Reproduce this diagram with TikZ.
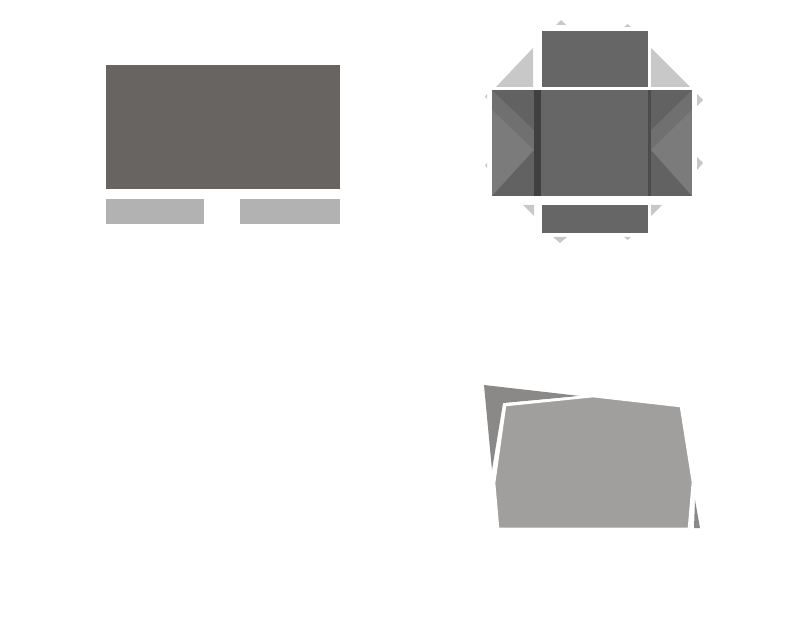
\documentclass[tikz,border=0pt]{standalone}
\begin{document}
\begin{tikzpicture}[x=0.75pt,y=-0.75pt]
\definecolor{dk}{HTML}{686462}\definecolor{lt}{HTML}{B3B2B2}
\definecolor{mid}{HTML}{666666}\definecolor{pn}{HTML}{707070}
\definecolor{tri}{HTML}{C8C8C8}\definecolor{sh}{HTML}{A09F9D}\definecolor{sd}{HTML}{8A8988}
\useasboundingbox (0,0) rectangle (800,620);
\fill[white] (0,0) rectangle (800,620);
% top-left
\fill[dk] (106,65) rectangle (340,189);
\fill[lt] (106,199) rectangle (204,224);
\fill[lt] (240,199) rectangle (340,224);
% top-right
\fill[tri] (496,87)--(533,87)--(533,48)--cycle;
\fill[tri] (651,48)--(651,87)--(690,87)--cycle;
\fill[tri] (523,205)--(534,205)--(534,216)--cycle;
\fill[tri] (651,205)--(662,205)--(651,216)--cycle;
\fill[tri] (556,25)--(566,25)--(561,20)--cycle;
\fill[tri] (624,27)--(631,27)--(627.5,24)--cycle;
\fill[tri] (553,237)--(567,237)--(560,243)--cycle;
\fill[tri] (624,237)--(631,237)--(627.5,240)--cycle;
\fill[tri] (697,94)--(697,106)--(703,100)--cycle;
\fill[tri] (697,157)--(697,170)--(703,163)--cycle;
\fill[tri] (487,94)--(487,99)--(485,96.5)--cycle;
\fill[tri] (487,163)--(487,168)--(485,165.5)--cycle;
\fill[mid] (542,31) rectangle (648,87);
\fill[mid] (542,205) rectangle (648,233);
\fill[pn] (492,90) rectangle (534,196);
\fill[pn] (651,90) rectangle (692,196);
\fill[black,opacity=0.12] (492,90)--(534,130)--(534,90)--cycle;
\fill[black,opacity=0.12] (492,196)--(534,150)--(534,196)--cycle;
\fill[white,opacity=0.08] (492,110)--(534,150)--(492,196)--cycle;
\fill[black,opacity=0.12] (692,90)--(651,130)--(651,90)--cycle;
\fill[black,opacity=0.12] (692,196)--(651,150)--(651,196)--cycle;
\fill[white,opacity=0.08] (692,110)--(651,150)--(692,196)--cycle;
\fill[black!75] (534,90) rectangle (541,196);
\fill[black!70] (648,90) rectangle (651,196);
\fill[mid] (541,90) rectangle (648,196);
% bottom-right
\fill[sd] (484,385)--(580,396)--(503,403)--(492,470)--cycle;
\fill[sd] (695,500)--(700,528)--(694,528)--cycle;
\filldraw[fill=sh,draw=white,line width=2pt] (505,405)--(593,396)--(681,406)--(693,482)--(689,529)--(498,529)--(494,483)--cycle;
\end{tikzpicture}
\end{document}
